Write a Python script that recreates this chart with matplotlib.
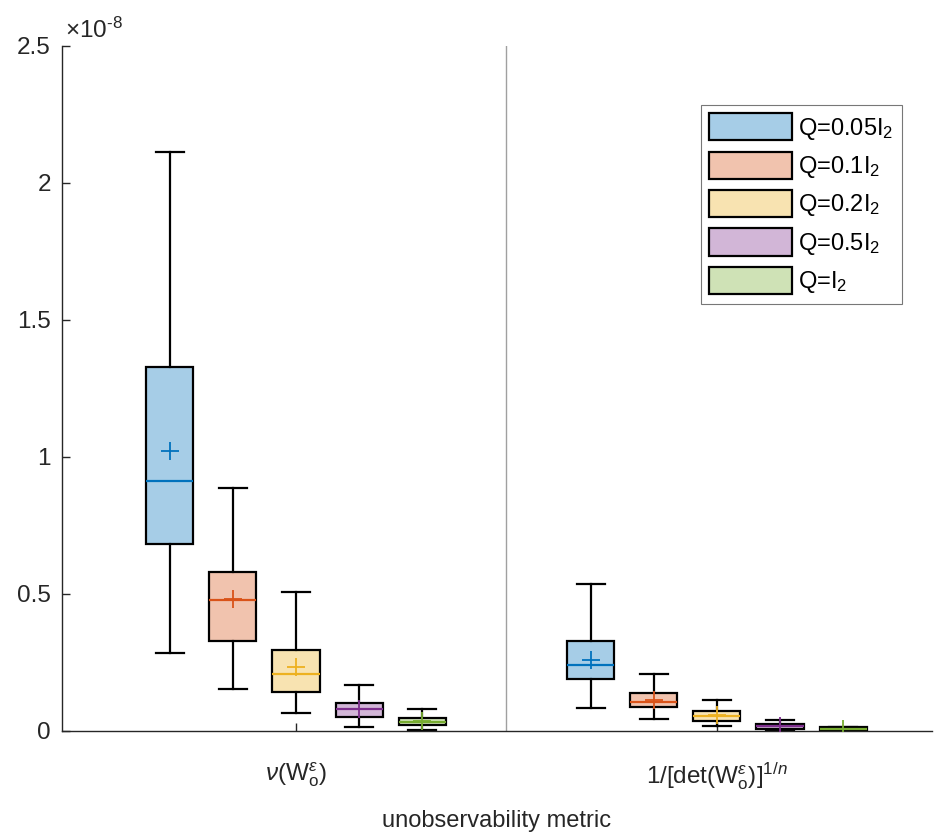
import matplotlib
matplotlib.use("Agg")
import matplotlib.pyplot as plt
from matplotlib.patches import Patch
from matplotlib.ticker import FuncFormatter, FixedLocator

plt.rcParams['font.family'] = ['Liberation Sans', 'DejaVu Sans']
plt.rcParams['mathtext.fontset'] = 'custom'
plt.rcParams['mathtext.rm'] = 'Liberation Sans'
plt.rcParams['mathtext.it'] = 'Liberation Sans:italic'

SCALE = 1e-8
metrics = [r"$\nu$(W$_\mathrm{o}^{\epsilon}$)", r"1/[det(W$_\mathrm{o}^{\epsilon}$)]$^{1/n}$"]
series = [r"Q=0.05I$_2$", r"Q=0.1I$_2$", r"Q=0.2I$_2$", r"Q=0.5I$_2$", r"Q=I$_2$"]
colors = ["#0072BD", "#D95319", "#EDB120", "#7E2F8E", "#77AC30"]

# per metric, per Q: values in units of 1e-8
whislo = [[0.285, 0.153, 0.066, 0.016, 0.004],
          [0.084, 0.045, 0.020, 0.002, 0.000]]
q1 = [[0.683, 0.328, 0.143, 0.052, 0.022],
      [0.190, 0.089, 0.038, 0.009, 0.003]]
med = [[0.912, 0.478, 0.208, 0.080, 0.034],
       [0.240, 0.107, 0.056, 0.017, 0.006]]
q3 = [[1.328, 0.581, 0.296, 0.103, 0.047],
      [0.328, 0.138, 0.074, 0.026, 0.013]]
whishi = [[2.113, 0.887, 0.507, 0.168, 0.080],
          [0.536, 0.208, 0.113, 0.040, 0.016]]
mean = [[1.022, 0.483, 0.234, 0.080, 0.036],
        [0.259, 0.113, 0.058, 0.018, 0.006]]

fig = plt.figure(figsize=(9.4, 8.36), dpi=100)
ax = fig.add_axes([0.066, 0.1256, 0.925, 0.8194])

offsets = [-0.30, -0.15, 0.0, 0.15, 0.30]
width = 0.112
axis_col = "#262626"

for g in range(len(metrics)):
    for k in range(len(series)):
        st = dict(whislo=whislo[g][k] * SCALE, q1=q1[g][k] * SCALE,
                  med=med[g][k] * SCALE, q3=q3[g][k] * SCALE,
                  whishi=whishi[g][k] * SCALE, mean=mean[g][k] * SCALE,
                  fliers=[])
        pos = g + 1 + offsets[k]
        bp = ax.bxp([st], positions=[pos], widths=width, capwidths=width * 0.6,
                    patch_artist=True, showmeans=True, manage_ticks=False,
                    boxprops=dict(facecolor=matplotlib.colors.to_rgba(colors[k], 0.35),
                                  edgecolor="black", linewidth=1.6),
                    whiskerprops=dict(color="black", linewidth=1.6, linestyle="-"),
                    capprops=dict(color="black", linewidth=1.6),
                    medianprops=dict(color=colors[k], linewidth=1.6),
                    meanprops=dict(marker="+", markeredgecolor=colors[k],
                                   markerfacecolor=colors[k], markersize=13,
                                   markeredgewidth=1.3))
        for b in bp["boxes"]:
            b.set_zorder(3)
        for key in ("medians", "means"):
            for a in bp[key]:
                a.set_zorder(4)

ax.axvline(1.5, color="#a0a0a0", linewidth=1.0, zorder=1)

ax.set_xlim(0.444, 2.51)
ax.set_ylim(0, 2.5 * SCALE)
ax.yaxis.set_major_locator(FixedLocator([v * SCALE for v in [0, 0.5, 1, 1.5, 2, 2.5]]))
ax.yaxis.set_major_formatter(FuncFormatter(lambda v, p: "%g" % round(v / SCALE, 3)))
ax.set_xticks([1, 2])
ax.set_xticklabels(metrics)

for s in ("top", "right"):
    ax.spines[s].set_visible(False)
for s in ("left", "bottom"):
    ax.spines[s].set_color(axis_col)
    ax.spines[s].set_linewidth(1.0)
ax.tick_params(direction="in", labelsize=17.5, colors=axis_col, length=6, width=1.0)
ax.tick_params(axis="y", pad=8)
ax.tick_params(axis="x", pad=21)

ax.text(0.003, 1.005, r"$\times$10$^{\text{-}8}$", transform=ax.transAxes,
        fontsize=17.5, color=axis_col, ha="left", va="bottom")

ax.set_xlabel("unobservability metric", fontsize=17, color=axis_col, labelpad=13)

handles = [Patch(facecolor=matplotlib.colors.to_rgba(c, 0.35), edgecolor="black",
                 linewidth=1.6) for c in colors]
leg = ax.legend(handles, series, loc="upper right", bbox_to_anchor=(0.9655, 0.914),
                fontsize=17, frameon=True, fancybox=False, edgecolor="#555555",
                handlelength=3.5, handleheight=1.4, handletextpad=0.25,
                labelspacing=0.42, borderpad=0.35, borderaxespad=0)
leg.get_frame().set_linewidth(0.8)

fig.savefig("out.png", dpi=100)
